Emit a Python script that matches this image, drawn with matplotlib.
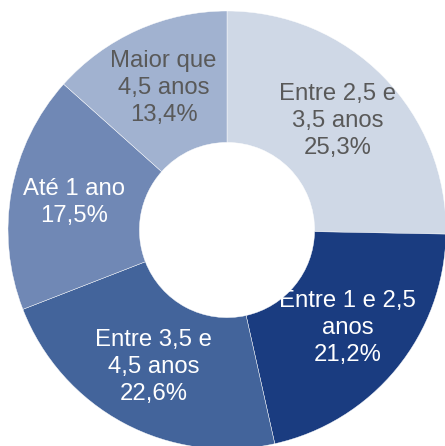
import numpy as np
import matplotlib
matplotlib.use("Agg")
import matplotlib.pyplot as plt

plt.rcParams["font.family"] = ["Liberation Sans", "DejaVu Sans"]

# Dados: distribuição por prazo
categorias = ["Entre 2,5 e\n3,5 anos", "Entre 1 e 2,5\nanos", "Entre 3,5 e\n4,5 anos",
              "Até 1 ano", "Maior que\n4,5 anos"]
valores = [25.3, 21.2, 22.6, 17.5, 13.4]
cores = ["#CFD8E6", "#1A3C80", "#43649B", "#7088B5", "#A1B2D0"]
cores_texto = ["#595959", "white", "white", "white", "#595959"]

W, H = 445, 446
fig = plt.figure(figsize=(W / 100, H / 100), dpi=100)
R = 219
cx, cy = 227, 446 - 230
ax = fig.add_axes([(cx - R) / W, (cy - R) / H, 2 * R / W, 2 * R / H])

wedges, _ = ax.pie(valores, colors=cores, startangle=90, counterclock=False,
                   radius=1.0, wedgeprops=dict(width=0.6, edgecolor="white", linewidth=0.3))

# Rótulos no meio do anel
for w, cat, val, ct in zip(wedges, categorias, valores, cores_texto):
    ang = np.deg2rad((w.theta1 + w.theta2) / 2)
    r = 0.71
    txt = f"{cat}\n{val:.1f}%".replace(".", ",")
    ax.text(r * np.cos(ang), r * np.sin(ang), txt, ha="center", va="center",
            color=ct, fontsize=17.2, linespacing=1.3)

ax.set_xlim(-1, 1)
ax.set_ylim(-1, 1)
ax.set_aspect("auto")
ax.axis("off")

fig.savefig("out.png", dpi=100)
plt.close(fig)
